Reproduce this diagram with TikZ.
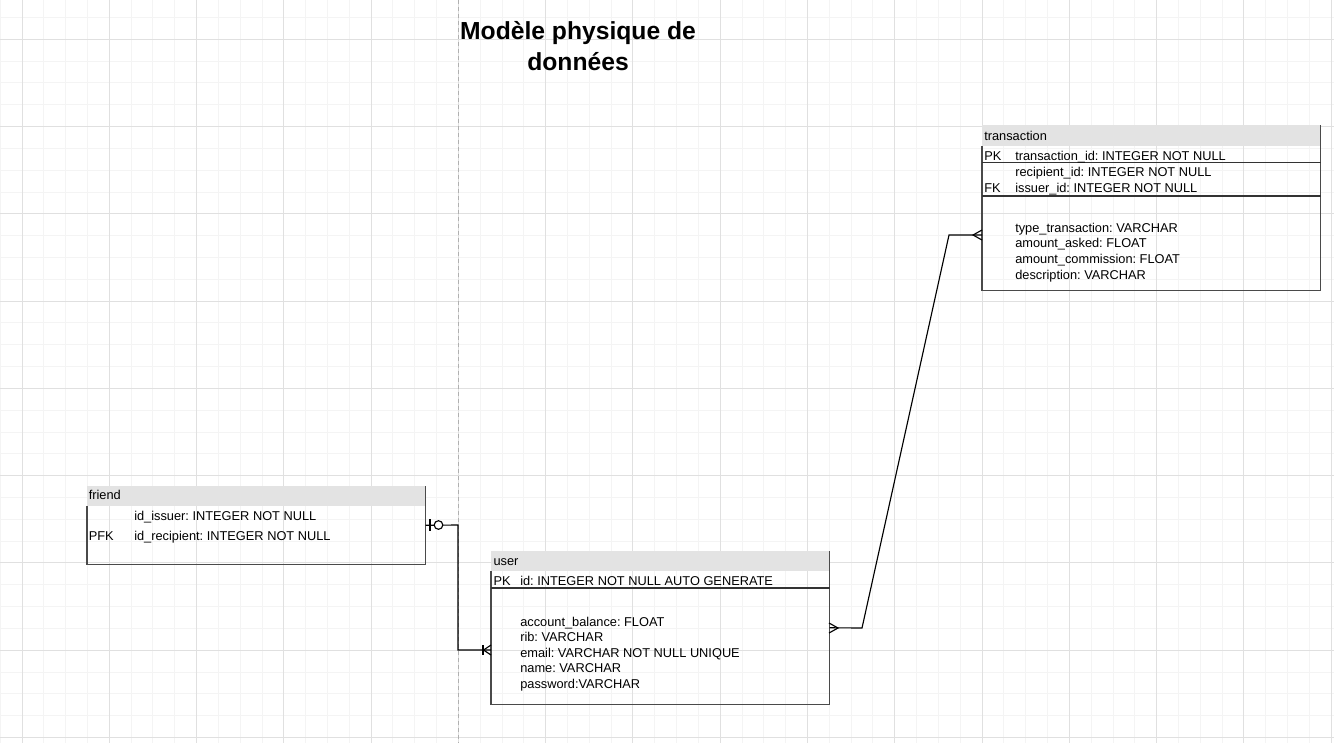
\documentclass[tikz,border=0pt]{standalone}
\usepackage{fontspec}
\setmainfont{Liberation Sans}
\usetikzlibrary{calc}
\frenchspacing
\definecolor{hdrgray}{HTML}{E3E3E3}
\definecolor{minorgrid}{HTML}{F4F4F4}
\definecolor{majorgrid}{HTML}{E0E0E0}
\definecolor{edgegray}{HTML}{4A4A4A}
\definecolor{dashgray}{HTML}{B0B0B0}
\begin{document}
\begin{tikzpicture}[x=0.75pt,y=-0.75pt,
  field/.style={anchor=base west, inner sep=0pt, font=\fontsize{9.6}{11}\selectfont},
  tbl/.style={anchor=north west, inner sep=0pt, minimum width=253.5pt},
  tblborder/.style={draw=edgegray, line width=0.8pt},
  sepline/.style={draw=black!80, line width=0.8pt},
  conn/.style={draw=black, line width=0.85pt},
  minorline/.style={draw=minorgrid, line width=0.75pt},
  majorline/.style={draw=majorgrid, line width=0.75pt},
  guide/.style={draw=dashgray, line width=0.75pt, dash pattern=on 3pt off 2.25pt},
  titlestyle/.style={align=center, inner sep=0pt, font=\fontsize{18.5}{23.25}\selectfont\bfseries}
]
\useasboundingbox (0,0) rectangle (1334,743);
\fill[white] (0,0) rectangle (1334,743);
% grid
\foreach \i in {0,...,61} {\draw[minorline] ({0.18+21.82*\i},0) -- ({0.18+21.82*\i},743);}
\foreach \i in {-1,...,33} {\draw[minorline] (0,{17.48+21.82*\i}) -- (1334,{17.48+21.82*\i});}
\foreach \i in {0,...,15} {\draw[majorline] ({22+87.28*\i},0) -- ({22+87.28*\i},743);}
\foreach \i in {0,...,8} {\draw[majorline] (0,{39.3+87.28*\i}) -- (1334,{39.3+87.28*\i});}
% dashed guide
\coordinate (gtop) at (458,0);
\coordinate (gbot) at (458,743);
\draw[guide] (gtop) -- (gbot);

% title
\node[titlestyle] (title) at (578,46) {Modèle physique de\\données};

% ---------- transaction ----------
\node[tbl, minimum height=123.75pt] (tr) at (982,125) {};
\fill[hdrgray] (tr.north west) rectangle ($(tr.north east)+(0,21)$);
\draw[tblborder] ($(tr.north west)+(0,21)$) -- (tr.south west) -- (tr.south east) -- (tr.north east);
\draw[sepline] ($(tr.north west)+(0,37.5)$) -- ($(tr.north east)+(0,37.5)$);
\draw[sepline] ($(tr.north west)+(0,71)$) -- ($(tr.north east)+(0,71)$);
\node[field] (trh) at (984,140) {transaction};
\node[field] (trpk) at (984,160.7) {PK};
\node[field] (trf1) at (1015,160.7) {transaction\_id: INTEGER NOT NULL};
\node[field] (trf2) at (1015,176) {recipient\_id: INTEGER NOT NULL};
\node[field] (trfk) at (984,192) {FK};
\node[field] (trf3) at (1015,192) {issuer\_id: INTEGER NOT NULL};
\node[field] (trf4) at (1015,232.3) {type\_transaction: VARCHAR};
\node[field] (trf5) at (1015,247.7) {amount\_asked: FLOAT};
\node[field] (trf6) at (1015,263.3) {amount\_commission: FLOAT};
\node[field] (trf7) at (1015,279) {description: VARCHAR};

% ---------- friend ----------
\node[tbl, minimum height=58.5pt] (fr) at (87,486) {};
\fill[hdrgray] (fr.north west) rectangle ($(fr.north east)+(0,20)$);
\draw[tblborder] ($(fr.north west)+(0,20)$) -- (fr.south west) -- (fr.south east) -- (fr.north east);
\node[field] (frh) at (88.5,499.3) {friend};
\node[field] (frf1) at (134,520.7) {id\_issuer: INTEGER NOT NULL};
\node[field] (frpk) at (88.5,540.7) {PFK};
\node[field] (frf2) at (134,540.7) {id\_recipient: INTEGER NOT NULL};

% ---------- user ----------
\node[tbl, minimum height=114.75pt] (us) at (491,551) {};
\fill[hdrgray] (us.north west) rectangle ($(us.north east)+(0,20)$);
\draw[tblborder] ($(us.north west)+(0,20)$) -- (us.south west) -- (us.south east) -- (us.north east);
\draw[sepline] ($(us.north west)+(0,37)$) -- ($(us.north east)+(0,37)$);
\node[field] (ush) at (493.3,565) {user};
\node[field] (uspk) at (493.3,585) {PK};
\node[field] (usf1) at (520,585) {id: INTEGER NOT NULL AUTO GENERATE};
\node[field] (usf2) at (520,626) {account\_balance: FLOAT};
\node[field] (usf3) at (520,641.7) {rib: VARCHAR};
\node[field] (usf4) at (520,657.3) {email: VARCHAR NOT NULL UNIQUE};
\node[field] (usf5) at (520,672.7) {name: VARCHAR};
\node[field] (usf6) at (520,688.3) {password:VARCHAR};

% ---------- connectors ----------
% friend -> user
\coordinate (fu1) at (458,525);
\coordinate (uin) at (491,650);
\draw[conn] (fr.east) -- (fu1) |- (uin);
\draw[conn] (430,519) -- (430,531);
\draw[conn, fill=white] (438.5,525) circle[radius=4.3];
\draw[conn] (483,645) -- (483,655);
\draw[conn] (491,645) -- (483.5,650) -- (491,655);

% user -> transaction
\coordinate (ut1) at (862,628);
\coordinate (ut2) at (949,235);
\coordinate (tin) at (982,235);
\draw[conn] (us.east) -- (ut1) -- (ut2) -- (tin);
\draw[conn] (829,623) -- (838,628) -- (829,633);
\draw[conn] (982,230) -- (973,235) -- (982,240);
\end{tikzpicture}
\end{document}
